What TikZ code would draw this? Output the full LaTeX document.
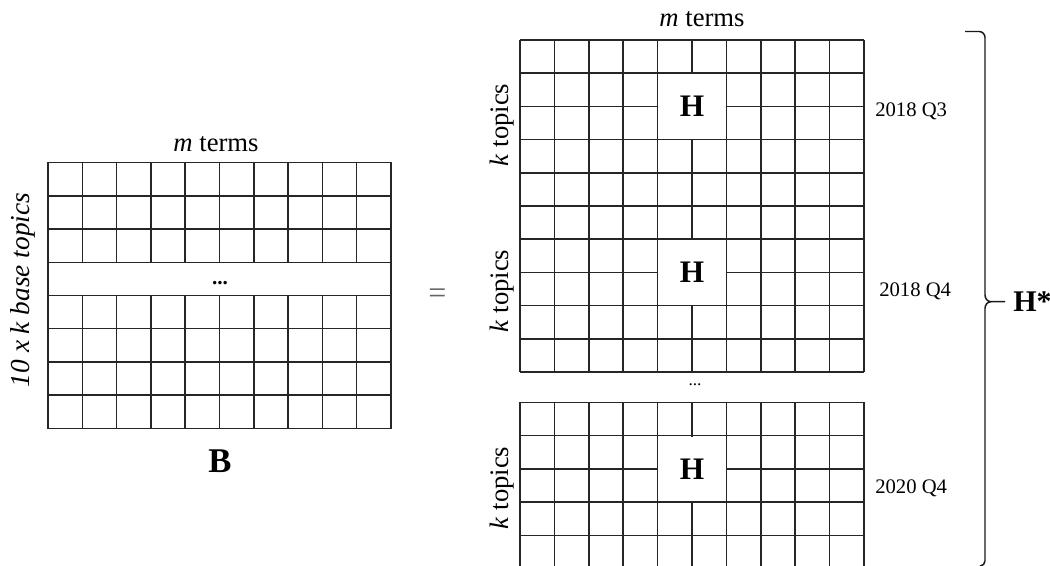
\documentclass[tikz,border=0pt]{standalone}
\usepackage{fontspec}
\setmainfont{Liberation Serif}
\begin{document}
\begin{tikzpicture}[x=0.75pt,y=-0.75pt,
  gridline/.style={draw=black!85,line width=1.15pt},
  lbl/.style={inner sep=0pt,font=\fontsize{20}{24}\selectfont},
  datelbl/.style={inner sep=0pt,anchor=west,font=\fontsize{15.5}{18}\selectfont},
  hlbl/.style={inner sep=0pt,font=\fontsize{23.5}{28}\selectfont\bfseries},
  dots/.style={inner sep=0pt,font=\fontsize{16}{18}\selectfont\bfseries}]
\useasboundingbox (0,0) rectangle (1050,566);
% ---------- left matrix B ----------
\def\cw{34.3}
\def\rh{33.2}
\draw[gridline] (48,162.7) rectangle (391,428.3);
\foreach \y in {195.9,229.1,262.3,295.5,328.7,361.9,395.1}
  \draw[gridline] (48,\y) -- (391,\y);
\foreach \i in {1,...,9}{
  \draw[gridline] ({48+\i*\cw},162.7) -- ({48+\i*\cw},262.3);
  \draw[gridline] ({48+\i*\cw},295.5) -- ({48+\i*\cw},428.3);
}
\node[lbl] (mtL) at (216,144) {\textit{m} terms};
\node[dots] (dotsL) at (220,283) {...};
\node[lbl,rotate=90,font=\fontsize{20.5}{24}\selectfont\itshape] (side) at (23,290) {10 x k base topics};
\node[inner sep=0pt,font=\fontsize{26}{30}\selectfont\bfseries] (B) at (220,461) {B};
% ---------- equals ----------
\node[inner sep=0pt,text=black!60,font=\fontsize{24}{28}\selectfont] (eq) at (437.5,296) {=};
% ---------- right matrices ----------
\def\cwr{34.4}
\newcommand{\hgrid}[3]{% #1 top, #2 bottom limit, #3 draw bottom line (1/0)
  \foreach \j in {0,...,4}
    \draw[gridline] (520,{#1+\j*\rh}) -- (864,{#1+\j*\rh});
  \ifnum#3=1 \draw[gridline] (520,{#1+5*\rh}) -- (864,{#1+5*\rh});\fi
  \foreach \i in {0,...,10}
    \draw[gridline] ({520+\i*\cwr},#1) -- ({520+\i*\cwr},#2);
  \fill[white] ({520+4*\cwr+0.85},{#1+\rh+0.85}) rectangle ({520+6*\cwr-0.85},{#1+3*\rh-0.85});
}
\hgrid{40}{206}{1}
\hgrid{206}{372}{1}
\hgrid{402.5}{566}{0}
\draw[draw=black!85,line width=1.9pt] (520,206) -- (864,206);
\node[hlbl] (H1) at (692,106.4) {H};
\node[hlbl] (H2) at (692,272.4) {H};
\node[hlbl] (H3) at (692,468.9) {H};
\node[lbl] (mtR) at (702,19) {\textit{m} terms};
\node[lbl,rotate=90] (k1) at (502,125) {\textit{k} topics};
\node[lbl,rotate=90] (k2) at (502,291) {\textit{k} topics};
\node[lbl,rotate=90] (k3) at (502,488) {\textit{k} topics};
\node[dots,font=\fontsize{13}{15}\selectfont] (dotsR) at (695,385) {...};
\node[datelbl] (d1) at (875,111) {2018 Q3};
\node[datelbl] (d2) at (879,291) {2018 Q4};
\node[datelbl] (d3) at (875,488) {2020 Q4};
% ---------- brace ----------
\coordinate (btop) at (965,31.5);
\coordinate (btip) at (1005,301.7);
\coordinate (bbot) at (980,566);
\draw[black!90,line width=1.1pt] (btop) -- (979,31.5) to[out=0,in=90] (985,37.5)
  -- (985,295) to[out=-90,in=180] (991,301.7) -- (btip);
\draw[black!90,line width=1.1pt] (991,301.7) to[out=180,in=90] (985,308.4)
  -- (985,561) to[out=-90,in=0] (bbot);
\node[inner sep=0pt,anchor=west,font=\fontsize{22.5}{26}\selectfont\bfseries] (Hs) at (1013,302) {H*};
\end{tikzpicture}
\end{document}
